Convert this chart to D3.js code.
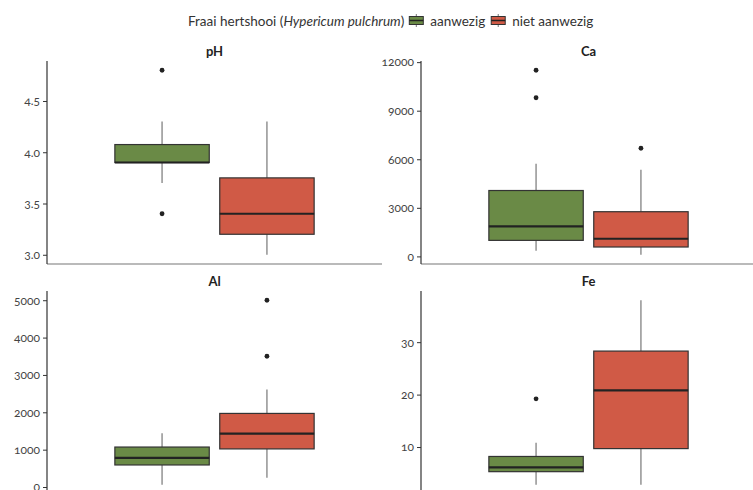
<!DOCTYPE html>
<html>
<head>
<meta charset="utf-8">
<script src="https://cdn.jsdelivr.net/npm/d3@7"></script>
<style>
  body { margin: 0; background: #fff; }
  svg text { font-family: Lato, "Open Sans", sans-serif; font-feature-settings: "onum" 1; font-variant-numeric: oldstyle-nums; }
</style>
</head>
<body>
<svg id="chart" width="753" height="490"></svg>
<script>
const groups = ["aanwezig", "niet aanwezig"];
const variables = ["pH", "Ca", "Al", "Fe"];
// [lower whisker, Q1, median, Q3, upper whisker]
const statsAanwezig = [
  [3.7, 3.9, 3.9, 4.075, 4.3],
  [350, 990, 1850, 4070, 5720],
  [60, 590, 780, 1070, 1440],
  [2.8, 5.3, 6.1, 8.2, 10.8]
];
const statsNietAanwezig = [
  [3.0, 3.2, 3.4, 3.75, 4.3],
  [100, 580, 1090, 2760, 5350],
  [250, 1020, 1430, 1970, 2610],
  [2.8, 9.7, 20.8, 28.3, 38.0]
];
const outliersAanwezig = [[4.8, 3.4], [9800, 11500], [], [19.2]];
const outliersNietAanwezig = [[], [6680], [3500, 5000], []];
const tickValues = [
  [3.0, 3.5, 4.0, 4.5],
  [0, 3000, 6000, 9000, 12000],
  [0, 1000, 2000, 3000, 4000, 5000],
  [10, 20, 30]
];
const tickFormats = [d3.format(".1f"), d3.format("d"), d3.format("d"), d3.format("d")];

const colors = { "aanwezig": "#6a8a46", "niet aanwezig": "#d05a46" };

const svg = d3.select("#chart");

// layout of facet panels
const layout = [
  { x0: 47, x1: 382, y0: 61, y1: 264 },
  { x0: 421, x1: 756, y0: 61, y1: 264 },
  { x0: 47, x1: 382, y0: 291, y1: 494 },
  { x0: 421, x1: 756, y0: 291, y1: 494 }
];

variables.forEach((v, i) => {
  const L = layout[i];
  const series = [
    { g: groups[0], s: statsAanwezig[i], out: outliersAanwezig[i] },
    { g: groups[1], s: statsNietAanwezig[i], out: outliersNietAanwezig[i] }
  ];
  const all = series.flatMap(d => d.s.concat(d.out));
  const mn = d3.min(all), mx = d3.max(all), pad = (mx - mn) * 0.05;
  const y = d3.scaleLinear().domain([mn - pad, mx + pad]).range([L.y1, L.y0]);
  const x = d3.scaleBand().domain(groups).range([L.x0, L.x1]).paddingInner(0.1).paddingOuter(0.647);

  const g = svg.append("g");

  // title
  g.append("text").attr("x", (L.x0 + L.x1) / 2).attr("y", L.y0 - 5)
    .attr("text-anchor", "middle").attr("font-size", 13).attr("font-weight", "bold")
    .attr("fill", "#222").text(v);

  // x axis line (no ticks)
  g.append("line").attr("x1", L.x0).attr("x2", L.x1).attr("y1", L.y1).attr("y2", L.y1)
    .attr("stroke", "#777").attr("stroke-width", 1.2);

  // y axis
  const ax = g.append("g").attr("transform", `translate(${L.x0},0)`)
    .call(d3.axisLeft(y).tickValues(tickValues[i]).tickFormat(tickFormats[i]).tickSize(4).tickPadding(3));
  ax.select(".domain").attr("d", `M0,${L.y0}V${L.y1}`).attr("stroke", "#333").attr("stroke-width", 1.2);
  ax.selectAll(".tick line").attr("stroke", "#333");
  ax.selectAll(".tick text").attr("font-size", 12).attr("fill", "#444")
    .style("font-family", "Lato, 'Open Sans', sans-serif");

  series.forEach(d => {
    const cx = x(d.g) + x.bandwidth() / 2;
    const [lw, q1, med, q3, uw] = d.s;
    // whiskers
    g.append("line").attr("x1", cx).attr("x2", cx).attr("y1", y(q3)).attr("y2", y(uw))
      .attr("stroke", "#777").attr("stroke-width", 1.2);
    g.append("line").attr("x1", cx).attr("x2", cx).attr("y1", y(q1)).attr("y2", y(lw))
      .attr("stroke", "#777").attr("stroke-width", 1.2);
    // box
    g.append("rect").attr("x", x(d.g)).attr("width", x.bandwidth())
      .attr("y", y(q3)).attr("height", y(q1) - y(q3))
      .attr("fill", colors[d.g]).attr("stroke", "#333").attr("stroke-width", 1.2);
    // median
    g.append("line").attr("x1", x(d.g)).attr("x2", x(d.g) + x.bandwidth())
      .attr("y1", y(med)).attr("y2", y(med)).attr("stroke", "#222").attr("stroke-width", 2.2);
    // outliers
    g.selectAll(null).data(d.out).enter().append("circle")
      .attr("cx", cx).attr("cy", o => y(o)).attr("r", 2.4).attr("fill", "#222");
  });
});

// legend
const leg = svg.append("g");
const legText = leg.append("text").attr("x", 188).attr("y", 26).attr("font-size", 13.5).attr("fill", "#333");
legText.append("tspan").text("Fraai hertshooi (");
legText.append("tspan").attr("font-style", "italic").text("Hypericum pulchrum");
legText.append("tspan").text(")");
let lx = legText.node().getComputedTextLength() + 188 + 5;
groups.forEach(gname => {
  const kg = leg.append("g").attr("transform", `translate(${lx},14)`);
  kg.append("line").attr("x1", 7).attr("x2", 7).attr("y1", 0).attr("y2", 13).attr("stroke", "#777");
  kg.append("rect").attr("x", 0).attr("y", 2.5).attr("width", 14).attr("height", 8)
    .attr("fill", colors[gname]).attr("stroke", "#333").attr("stroke-width", 1);
  kg.append("line").attr("x1", 0).attr("x2", 14).attr("y1", 6.5).attr("y2", 6.5).attr("stroke", "#222").attr("stroke-width", 1.5);
  const t = leg.append("text").attr("x", lx + 21).attr("y", 26).attr("font-size", 13.5).attr("fill", "#333").text(gname);
  lx += 21 + t.node().getComputedTextLength() + 6;
});
</script>
</body>
</html>
